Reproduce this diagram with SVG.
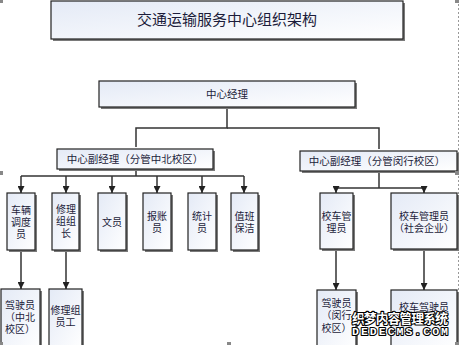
<svg xmlns="http://www.w3.org/2000/svg" width="459" height="345" viewBox="0 0 459 345">
<defs>
<linearGradient id="g" x1="0" y1="0" x2="1" y2="1">
<stop offset="0" stop-color="#e4eaf6"/>
<stop offset="1" stop-color="#ffffff"/>
</linearGradient>
<marker id="ar" markerUnits="userSpaceOnUse" markerWidth="8" markerHeight="7" refX="7" refY="3.5" orient="auto">
<path d="M0,0 L7,3.5 L0,7 Z" fill="#222"/>
</marker>
<style>
.sh{fill:#7a7a7a}
.bx{fill:url(#g);stroke:#222;stroke-width:1.2}
.t{font-family:"Noto Sans CJK SC","Noto Sans",sans-serif;fill:#1c1c3a;text-anchor:middle}
.s{font-size:10px}
.m{font-size:10.5px}
.c{fill:none;stroke:#333;stroke-width:1.5}
.a{marker-end:url(#ar)}
.h{fill:#888}
.wm{font-weight:bold;fill:#fff;stroke:#000;stroke-width:2.2;paint-order:stroke;stroke-linejoin:round}
</style>
</defs>
<rect width="459" height="345" fill="#fff"/>
<line x1="458.5" y1="0" x2="458.5" y2="345" stroke="#999" stroke-dasharray="2,2"/>

<g id="connectors">
<path class="c" d="M227,107 V128 H136 V147"/>
<path class="c" d="M227,128 H379 V149"/>
<path class="c" d="M136,169 V176"/>
<path class="c" d="M21,176 H244"/>
<path class="c a" d="M21,176 V193"/>
<path class="c a" d="M66,176 V193"/>
<path class="c a" d="M112,176 V193"/>
<path class="c a" d="M157,176 V193"/>
<path class="c a" d="M202,176 V193"/>
<path class="c a" d="M244,176 V193"/>
<path class="c" d="M379,171 V188"/>
<path class="c" d="M336,188 H424"/>
<path class="c a" d="M336,188 V193"/>
<path class="c a" d="M424,188 V193"/>
<path class="c a" d="M21,250 V289"/>
<path class="c a" d="M66,250 V289"/>
<path class="c a" d="M336,249 V290"/>
<path class="c a" d="M424,249 V290"/>
</g>

<g id="title">
<rect class="sh" x="53" y="3" width="352" height="38"/>
<rect class="bx" x="51" y="1" width="352" height="38"/>
<text class="t" x="227" y="25" font-size="15">交通运输服务中心组织架构</text>
</g>

<g id="manager">
<rect class="sh" x="101" y="83" width="256" height="26"/>
<rect class="bx" x="99" y="81" width="256" height="26"/>
<text class="t m" x="227" y="98">中心经理</text>
</g>

<g id="deputy-north">
<rect class="sh" x="59" y="151" width="156" height="20"/>
<rect class="bx" x="57" y="149" width="156" height="20"/>
<text class="t m" x="135" y="162.5">中心副经理（分管中北校区）</text>
</g>

<g id="deputy-minhang">
<rect class="sh" x="302" y="153" width="157" height="20"/>
<rect class="bx" x="300" y="151" width="157" height="20"/>
<text class="t m" x="377" y="164.5">中心副经理（分管闵行校区）</text>
</g>

<g id="dispatcher">
<rect class="sh" x="9" y="195" width="28" height="57"/>
<rect class="bx" x="7" y="193" width="28" height="57"/>
<text class="t s" x="21" y="213.5">车辆</text>
<text class="t s" x="21" y="225.5">调度</text>
<text class="t s" x="21" y="237.5">员</text>
</g>

<g id="repair-leader">
<rect class="sh" x="54" y="195" width="27" height="57"/>
<rect class="bx" x="52" y="193" width="27" height="57"/>
<text class="t s" x="66" y="213">修理</text>
<text class="t s" x="66" y="225">组组</text>
<text class="t s" x="66" y="237">长</text>
</g>

<g id="clerk">
<rect class="sh" x="100" y="195" width="28" height="57"/>
<rect class="bx" x="98" y="193" width="28" height="57"/>
<text class="t s" x="112" y="225.5">文员</text>
</g>

<g id="accountant">
<rect class="sh" x="145" y="195" width="28" height="57"/>
<rect class="bx" x="143" y="193" width="28" height="57"/>
<text class="t s" x="157" y="219.5">报账</text>
<text class="t s" x="157" y="231.5">员</text>
</g>

<g id="statistician">
<rect class="sh" x="190" y="195" width="28" height="57"/>
<rect class="bx" x="188" y="193" width="28" height="57"/>
<text class="t s" x="202" y="219.5">统计</text>
<text class="t s" x="202" y="231.5">员</text>
</g>

<g id="cleaning">
<rect class="sh" x="233" y="195" width="27" height="57"/>
<rect class="bx" x="231" y="193" width="27" height="57"/>
<text class="t s" x="244.5" y="220">值班</text>
<text class="t s" x="244.5" y="232">保洁</text>
</g>

<g id="bus-manager">
<rect class="sh" x="322" y="195" width="33" height="56"/>
<rect class="bx" x="320" y="193" width="33" height="56"/>
<text class="t s" x="336.5" y="219.5">校车管</text>
<text class="t s" x="336.5" y="231.5">理员</text>
</g>

<g id="bus-manager-social">
<rect class="sh" x="393" y="195" width="66" height="56"/>
<rect class="bx" x="391" y="193" width="66" height="56"/>
<text class="t s" x="424" y="219.5">校车管理员</text>
<text class="t s" x="424" y="231.5">（社会企业）</text>
</g>

<g id="driver-north">
<rect class="sh" x="3" y="291" width="39" height="60"/>
<rect class="bx" x="1" y="289" width="39" height="60"/>
<text class="t s" x="20" y="308.5">驾驶员</text>
<text class="t s" x="20" y="320.5">（中北</text>
<text class="t s" x="20" y="332.5">校区）</text>
</g>

<g id="repair-staff">
<rect class="sh" x="51" y="291" width="33" height="60"/>
<rect class="bx" x="49" y="289" width="33" height="60"/>
<text class="t s" x="65.5" y="313.5">修理组</text>
<text class="t s" x="65.5" y="325.5">员工</text>
</g>

<g id="driver-minhang">
<rect class="sh" x="319" y="292" width="39" height="60"/>
<rect class="bx" x="317" y="290" width="39" height="60"/>
<text class="t s" x="336.5" y="306.5">驾驶员</text>
<text class="t s" x="336.5" y="319">（闵行</text>
<text class="t s" x="336.5" y="331.5">校区）</text>
</g>

<g id="bus-driver-social">
<rect class="sh" x="393" y="292" width="66" height="60"/>
<rect class="bx" x="391" y="290" width="66" height="60"/>
<text class="t s" x="424" y="311">校车驾驶员</text>
<text class="t s" x="424" y="323">（社会企业）</text>
</g>

<g id="watermark">
<text class="wm" x="352" y="323" font-size="13" font-family="'Noto Sans CJK SC',sans-serif" textLength="96">织梦内容管理系统</text>
<text class="wm" x="352" y="335" font-size="11.5" font-family="'Liberation Mono',monospace" textLength="96">DEDECMS.COM</text>
</g>

<rect class="h" x="0" y="0" width="3" height="3"/>
<rect class="h" x="455" y="0" width="4" height="3"/>
<rect class="h" x="0" y="171" width="3" height="4"/>
<rect class="h" x="455" y="171" width="4" height="4"/>
<rect class="h" x="0" y="342" width="3" height="3"/>
<rect class="h" x="227" y="342" width="4" height="3"/>
<rect class="h" x="455" y="342" width="4" height="3"/>
</svg>
